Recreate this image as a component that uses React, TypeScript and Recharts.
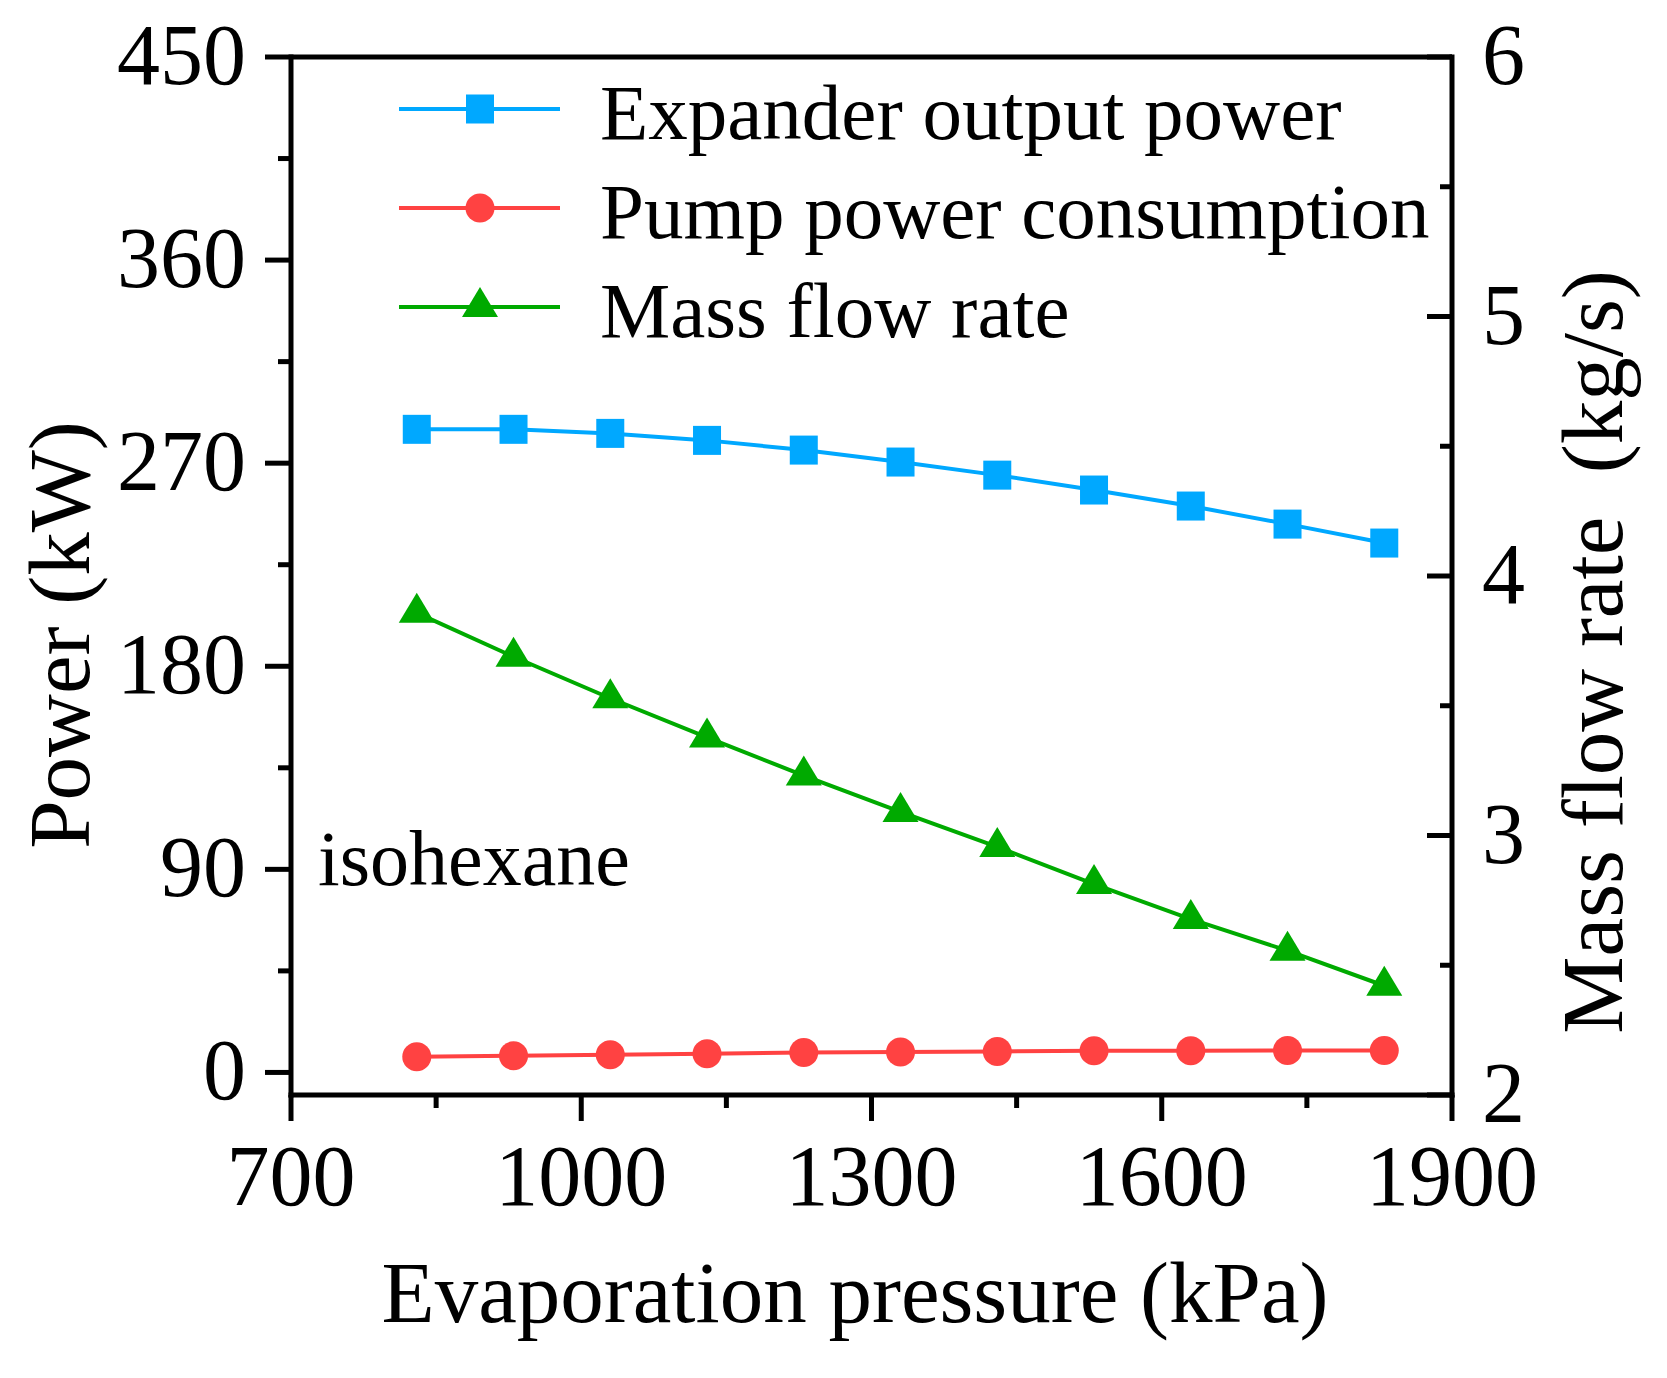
import React from 'react';
import { LineChart, Line, XAxis, YAxis, ReferenceLine, Legend } from 'recharts';

const FONT = '"Liberation Serif", "Times New Roman", Times, serif';
const BLUE = '#00A8FF';
const RED = '#FF4242';
const GREEN = '#00AA00';

// Data
const pressure = [830, 930, 1030, 1130, 1230, 1330, 1430, 1530, 1630, 1730, 1830];
const expander = [285.0, 285.0, 283.2, 280.1, 275.8, 270.5, 264.7, 258.1, 251.0, 243.0, 234.6];
const pump = [6.9, 7.4, 7.8, 8.3, 8.8, 9.1, 9.3, 9.6, 9.6, 9.7, 9.7];
const mass = [3.858, 3.689, 3.529, 3.378, 3.231, 3.091, 2.956, 2.813, 2.678, 2.556, 2.421];

const seriesKeys = ['expander', 'pump', 'mass'];
const seriesNames = ['Expander output power', 'Pump power consumption', 'Mass flow rate'];
const seriesColors = [BLUE, RED, GREEN];

const xTicks = [700, 850, 1000, 1150, 1300, 1450, 1600, 1750, 1900];
const xMajor = [700, 1000, 1300, 1600, 1900];
const leftTicks = [0, 45, 90, 135, 180, 225, 270, 315, 360, 405, 450];
const leftMajor = [0, 90, 180, 270, 360, 450];
const rightTicks = [2, 2.5, 3, 3.5, 4, 4.5, 5, 5.5, 6];
const rightMajor = [2, 3, 4, 5, 6];

const xTitle = 'Evaporation pressure (kPa)';
const leftTitle = 'Power (kW)';
const rightTitle = 'Mass flow rate  (kg/s)';
const noteText = 'isohexane';

const data = pressure.map((p, i) => ({
  p,
  expander: expander[i],
  pump: pump[i],
  mass: mass[i],
}));

const W = 1651;
const H = 1362;

const XTick = (props: any) => {
  const { x, y, payload } = props;
  const v = payload.value;
  const major = xMajor.includes(v);
  return (
    <g>
      <line x1={x} x2={x} y1={y} y2={y + (major ? 26 : 13)} stroke="#000" strokeWidth={5} />
      {major && (
        <text x={x} y={y + 110} textAnchor="middle" fontSize={86} fontFamily={FONT} fill="#000">
          {v}
        </text>
      )}
    </g>
  );
};

const LeftTick = (props: any) => {
  const { x, y, payload } = props;
  const v = payload.value;
  const major = leftMajor.includes(v);
  return (
    <g>
      <line x1={x - (major ? 26 : 13)} x2={x} y1={y} y2={y} stroke="#000" strokeWidth={5} />
      {major && (
        <text x={x - 45} y={y + 27} textAnchor="end" fontSize={86} fontFamily={FONT} fill="#000">
          {v}
        </text>
      )}
    </g>
  );
};

const RightTick = (props: any) => {
  const { x, y, payload } = props;
  const v = payload.value;
  const major = rightMajor.includes(v);
  return (
    <g>
      <line x1={x - (major ? 25 : 12)} x2={x} y1={y} y2={y} stroke="#000" strokeWidth={5} />
      {major && (
        <text x={x + 30} y={y + 27} textAnchor="start" fontSize={86} fontFamily={FONT} fill="#000">
          {v}
        </text>
      )}
    </g>
  );
};

const XTitle = () => (
  <text x={847} y={1314} textAnchor="middle" fontSize={87} fontFamily={FONT} fill="#000">
    {xTitle}
  </text>
);

const LeftTitle = () => (
  <g>
    <text
      x={81}
      y={627}
      transform="rotate(-90, 81, 627)"
      textAnchor="middle"
      fontSize={87}
      fontFamily={FONT}
      fill="#000"
    >
      {leftTitle}
    </text>
    <text x={310} y={877} textAnchor="start" fontSize={78} fontFamily={FONT} fill="#000">
      {noteText}
    </text>
  </g>
);

const RightTitle = () => (
  <text
    x={1614}
    y={644}
    transform="rotate(-90, 1614, 644)"
    textAnchor="middle"
    fontSize={87}
    fontFamily={FONT}
    fill="#000"
    xmlSpace="preserve"
    style={{ whiteSpace: 'pre' }}
  >
    {rightTitle}
  </text>
);

const SquareDot = (p: any) => {
  if (p.cx == null || p.cy == null) return <g key={p.index} />;
  return <rect key={`sq-${p.index}`} x={p.cx - 14} y={p.cy - 14.5} width={28} height={29} fill={BLUE} />;
};

const CircleDot = (p: any) => {
  if (p.cx == null || p.cy == null) return <g key={p.index} />;
  return <circle key={`ci-${p.index}`} cx={p.cx} cy={p.cy} r={14.5} fill={RED} />;
};

const TriDot = (p: any) => {
  if (p.cx == null || p.cy == null) return <g key={p.index} />;
  const { cx, cy } = p;
  return (
    <polygon
      key={`tr-${p.index}`}
      points={`${cx},${cy - 20} ${cx + 18},${cy + 10} ${cx - 18},${cy + 10}`}
      fill={GREEN}
    />
  );
};

const markerFor = (key: string, cx: number, cy: number, color: string) => {
  if (key === 'expander') return <rect x={cx - 14} y={cy - 14.5} width={28} height={29} fill={color} />;
  if (key === 'pump') return <circle cx={cx} cy={cy} r={14.5} fill={color} />;
  return <polygon points={`${cx},${cy - 20} ${cx + 18},${cy + 10} ${cx - 18},${cy + 10}`} fill={color} />;
};

const LegendContent = (props: any) => {
  const payload: any[] = (props && props.payload) || [];
  const rows = seriesKeys.map((key, i) => {
    const item = payload.find((e) => e && e.dataKey === key);
    return {
      key,
      name: item && item.value ? item.value : seriesNames[i],
      color: item && item.color ? item.color : seriesColors[i],
    };
  });
  return (
    <svg width={W} height={400} style={{ display: 'block', overflow: 'visible' }}>
      {rows.map((r, i) => {
        const y = 101 + i * 99;
        return (
          <g key={r.key}>
            <line x1={391} x2={552} y1={y} y2={y} stroke={r.color} strokeWidth={4} />
            {markerFor(r.key, 472, y, r.color)}
            <text x={592} y={y + 30} fontSize={79} fontFamily={FONT} fill="#000">
              {r.name}
            </text>
          </g>
        );
      })}
    </svg>
  );
};

const axisLineStyle = { stroke: '#000', strokeWidth: 5, strokeLinecap: 'square' as const };

export default function App() {
  return (
    <div style={{ width: W, height: H, background: '#fff' }}>
      <LineChart width={W} height={H} data={data} margin={{ top: 49, right: 0, bottom: 0, left: 0 }}>
        <XAxis
          dataKey="p"
          type="number"
          domain={[700, 1900]}
          ticks={xTicks}
          interval={0}
          height={275}
          tickSize={0}
          tickMargin={0}
          tickLine={false}
          axisLine={axisLineStyle}
          tick={XTick}
          label={XTitle}
          allowDataOverflow
        />
        <YAxis
          yAxisId="left"
          orientation="left"
          type="number"
          domain={[-10, 450]}
          ticks={leftTicks}
          interval={0}
          width={283}
          tickSize={0}
          tickMargin={0}
          tickLine={false}
          axisLine={axisLineStyle}
          tick={LeftTick}
          label={LeftTitle}
          allowDataOverflow
        />
        <YAxis
          yAxisId="right"
          orientation="right"
          type="number"
          domain={[2, 6]}
          ticks={rightTicks}
          interval={0}
          width={207}
          tickSize={0}
          tickMargin={0}
          tickLine={false}
          axisLine={axisLineStyle}
          tick={RightTick}
          label={RightTitle}
          allowDataOverflow
        />
        <ReferenceLine yAxisId="left" y={450} stroke="#000" strokeWidth={5} />
        <Legend
          layout="vertical"
          align="center"
          verticalAlign="middle"
          content={LegendContent}
          wrapperStyle={{ position: 'absolute', left: 0, top: 0, width: W, height: 400, margin: 0, padding: 0, pointerEvents: 'none' }}
        />
        <Line
          yAxisId="left"
          dataKey="expander"
          name={seriesNames[0]}
          stroke={BLUE}
          strokeWidth={4}
          dot={SquareDot}
          activeDot={false}
          isAnimationActive={false}
        />
        <Line
          yAxisId="left"
          dataKey="pump"
          name={seriesNames[1]}
          stroke={RED}
          strokeWidth={4}
          dot={CircleDot}
          activeDot={false}
          isAnimationActive={false}
        />
        <Line
          yAxisId="right"
          dataKey="mass"
          name={seriesNames[2]}
          stroke={GREEN}
          strokeWidth={4}
          dot={TriDot}
          activeDot={false}
          isAnimationActive={false}
        />
      </LineChart>
    </div>
  );
}
